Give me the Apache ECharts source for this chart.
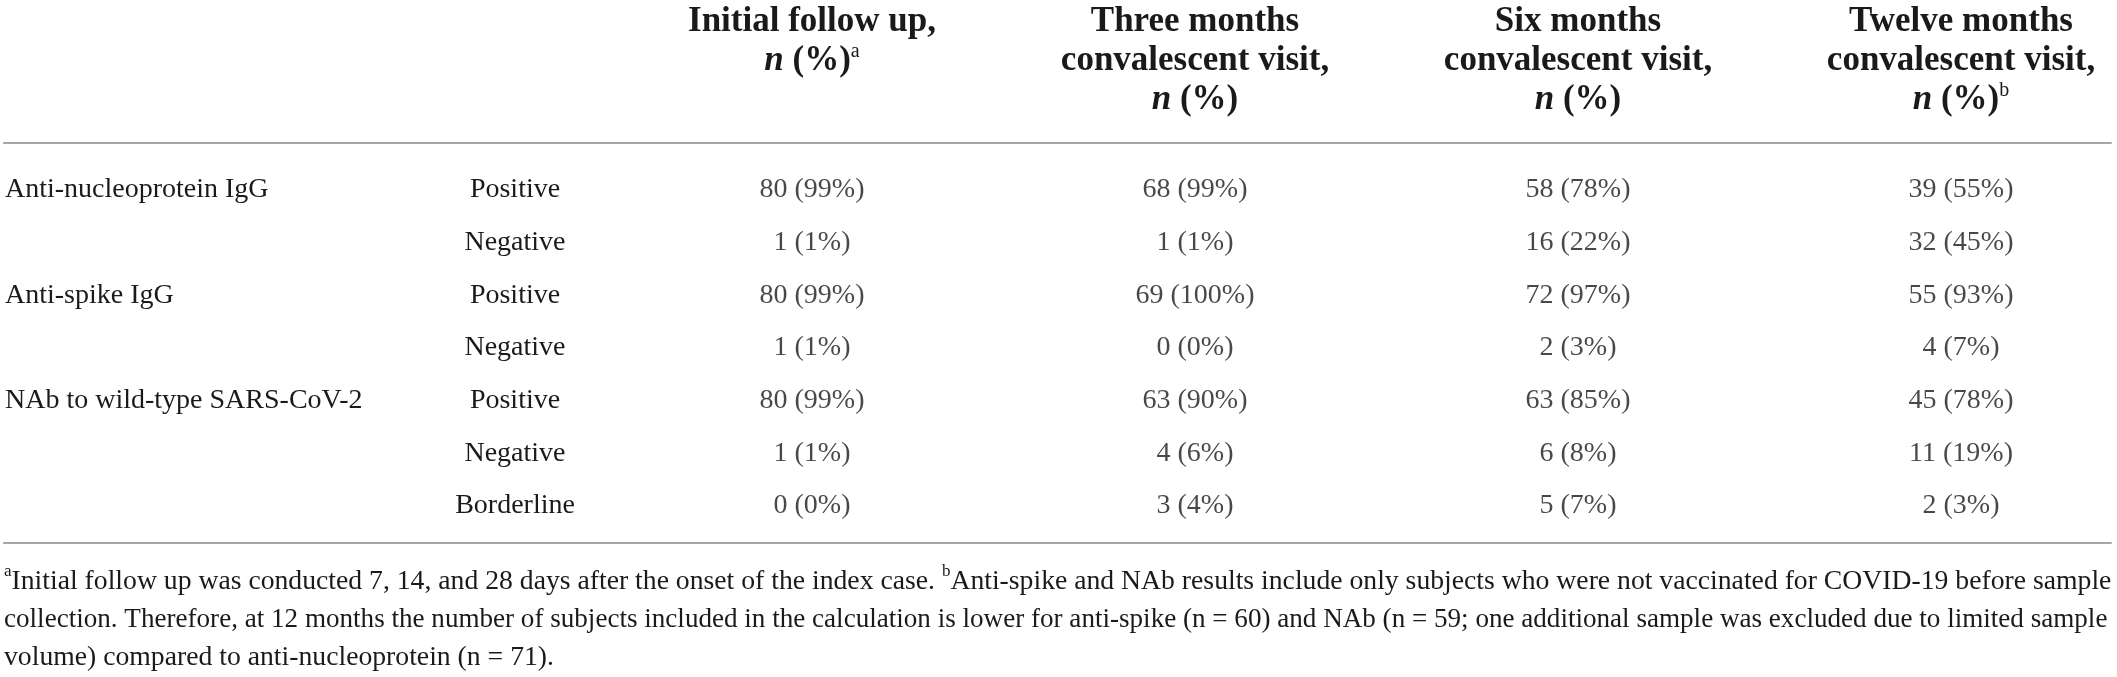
<!DOCTYPE html>
<html>
<head>
<meta charset="utf-8">
<script src="https://cdn.jsdelivr.net/npm/echarts@6/dist/echarts.min.js"></script>
<style>
  html, body { margin: 0; padding: 0; background: #fff; }
  #chart { width: 2117px; height: 677px; }
</style>
</head>
<body>
<div id="chart"></div>
<script>
// table contents
var groups = ['Anti-nucleoprotein IgG', '', 'Anti-spike IgG', '', 'NAb to wild-type SARS-CoV-2', '', ''];
var statuses = ['Positive', 'Negative', 'Positive', 'Negative', 'Positive', 'Negative', 'Borderline'];
var columns = ['Initial', 'Three', 'Six', 'Twelve'];
var headers = [
    '{b|Initial follow up,}\n{i|n}{b| (%)}{sup|a}',
    '{b|Three months}\n{b|convalescent visit,}\n{i|n}{b| (%)}',
    '{b|Six months}\n{b|convalescent visit,}\n{i|n}{b| (%)}',
    '{b|Twelve months}\n{b|convalescent visit,}\n{i|n}{b| (%)}{sup|b}'
];
var initialN = [80, 1, 80, 1, 80, 1, 0];
var initialPct = [99, 1, 99, 1, 99, 1, 0];
var threeN = [68, 1, 69, 0, 63, 4, 3];
var threePct = [99, 1, 100, 0, 90, 6, 4];
var sixN = [58, 16, 72, 2, 63, 6, 5];
var sixPct = [78, 22, 97, 3, 85, 8, 7];
var twelveN = [39, 32, 55, 4, 45, 11, 2];
var twelvePct = [55, 45, 93, 7, 78, 19, 3];
var footnote = [
    '{sup|a}{t1|Initial follow up was conducted 7, 14, and 28 days after the onset of the index case. }{sup|b}{t1|Anti-spike and NAb results include only subjects who were not vaccinated for COVID-19 before sample}',
    '{t2|collection. Therefore, at 12 months the number of subjects included in the calculation is lower for anti-spike (n = 60) and NAb (n = 59; one additional sample was excluded due to limited sample}',
    '{t1|volume) compared to anti-nucleoprotein (n = 71).}'
];

var FONT = 'Liberation Serif';
var INK = '#1a1a1a';
var RULE = '#a6a6a6';

var colN = [initialN, threeN, sixN, twelveN];
var colPct = [initialPct, threePct, sixPct, twelvePct];
var cells = [];
for (var c = 0; c < columns.length; c++) {
    for (var r = 0; r < statuses.length; r++) {
        cells.push([c, r, colN[c][r], colPct[c][r]]);
    }
}

var myChart = echarts.init(document.getElementById('chart'));
var option = {
    backgroundColor: '#fff',
    animation: false,
    title: {
        left: 4,
        top: 563,
        padding: 0,
        text: footnote.join('\n'),
        textStyle: {
            fontFamily: FONT,
            fontWeight: 'normal',
            fontSize: 27.7,
            lineHeight: 38,
            color: INK,
            rich: {
                t1: { fontFamily: FONT, fontSize: 27.7, color: INK, lineHeight: 38 },
                t2: { fontFamily: FONT, fontSize: 27.1, color: INK, lineHeight: 38 },
                sup: { fontFamily: FONT, fontSize: 17, color: INK, verticalAlign: 'top', lineHeight: 30 }
            }
        }
    },
    grid: [
        // cells
        { left: 812, right: 156, top: 163.7, bottom: 144.7 },
        // rules above and below the body
        { left: 4, right: 6, top: 143, bottom: 134 }
    ],
    xAxis: [
        {
            gridIndex: 0,
            type: 'category',
            position: 'top',
            boundaryGap: false,
            data: columns,
            axisLine: { show: false },
            axisTick: { show: false },
            splitLine: { show: false },
            axisLabel: {
                interval: 0,
                margin: 161,
                verticalAlign: 'top',
                formatter: function (v, i) { return headers[i]; },
                rich: {
                    b: { fontFamily: FONT, fontSize: 35, fontWeight: 'bold', color: INK, lineHeight: 39 },
                    i: { fontFamily: FONT, fontSize: 35, fontWeight: 'bold', fontStyle: 'italic', color: INK, lineHeight: 39 },
                    sup: { fontFamily: FONT, fontSize: 20, color: INK, verticalAlign: 'top', lineHeight: 32 }
                }
            }
        },
        {
            gridIndex: 1, type: 'value', position: 'top', min: 0, max: 1,
            axisLine: { show: true, onZero: false, lineStyle: { color: RULE, width: 2 } },
            axisTick: { show: false }, axisLabel: { show: false }, splitLine: { show: false }
        },
        {
            gridIndex: 1, type: 'value', position: 'bottom', min: 0, max: 1,
            axisLine: { show: true, onZero: false, lineStyle: { color: RULE, width: 2 } },
            axisTick: { show: false }, axisLabel: { show: false }, splitLine: { show: false }
        }
    ],
    yAxis: [
        {
            gridIndex: 0,
            type: 'category',
            inverse: true,
            data: statuses.map(function (s, i) { return 'r' + i; }),
            axisLine: { show: false },
            axisTick: { show: false },
            splitLine: { show: false },
            axisLabel: {
                interval: 0,
                margin: 207,
                formatter: function (v, i) {
                    var t = '{s|' + statuses[i] + '}';
                    if (groups[i]) t = '{g|' + groups[i] + '}' + t;
                    return t;
                },
                rich: {
                    g: { fontFamily: FONT, fontSize: 28, color: INK, width: 420, align: 'left' },
                    s: { fontFamily: FONT, fontSize: 28, color: INK, width: 180, align: 'center' }
                }
            }
        },
        { gridIndex: 1, type: 'value', min: 0, max: 1, show: false }
    ],
    series: [
        {
            type: 'scatter',
            xAxisIndex: 0,
            yAxisIndex: 0,
            symbolSize: 1,
            itemStyle: { color: 'rgba(0,0,0,0)' },
            data: cells,
            label: {
                show: true,
                position: 'inside',
                fontFamily: FONT,
                fontSize: 28,
                color: INK,
                formatter: function (p) { return p.value[2] + ' (' + p.value[3] + '%)'; }
            }
        }
    ]
};
myChart.setOption(option);
</script>
</body>
</html>
